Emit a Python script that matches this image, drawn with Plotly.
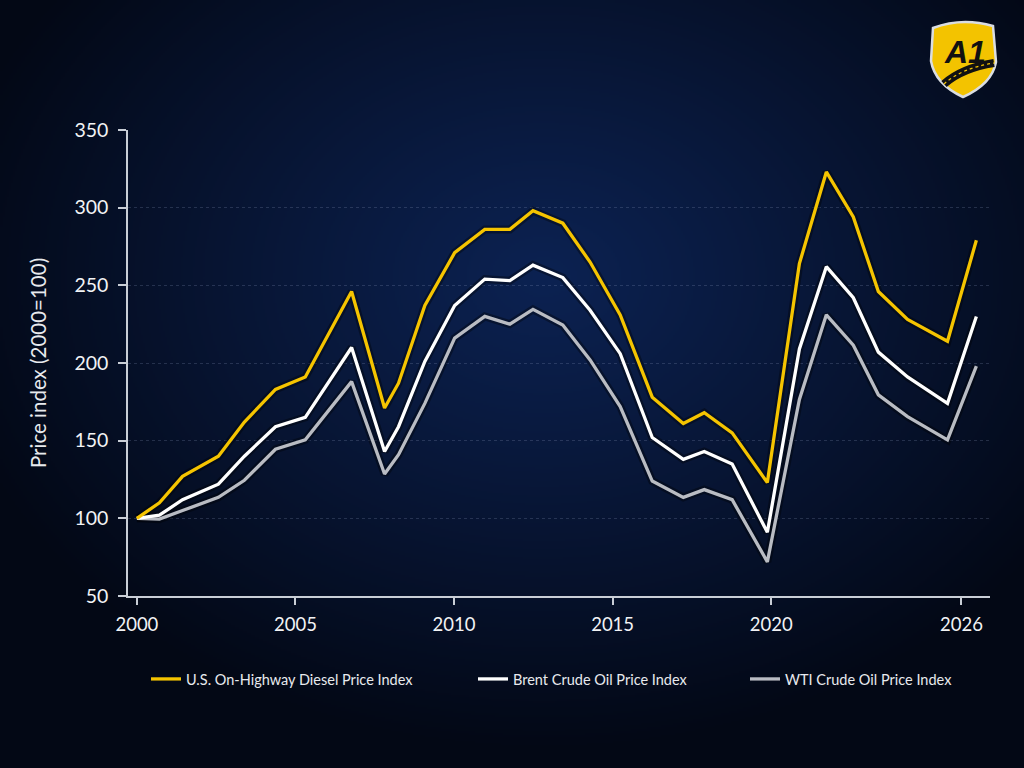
import base64
import struct
import zlib

import numpy as np
import plotly.graph_objects as go

# ---------------- data ----------------
years = [2000.0, 2000.71, 2001.44, 2002.57, 2003.39, 2004.37, 2005.31, 2006.77,
         2007.81, 2008.25, 2009.08, 2010.02, 2010.97, 2011.76, 2012.49, 2013.43,
         2014.29, 2015.24, 2016.25, 2017.23, 2017.89, 2018.77, 2019.88, 2020.89,
         2021.74, 2022.59, 2023.38, 2024.30, 2025.56, 2026.47]

diesel = [100, 110, 127, 140, 162, 183, 191, 246, 171, 187, 237, 271, 286, 286,
          298, 290, 265, 231, 178, 161, 168, 155, 123, 264, 323, 294, 246, 228,
          214, 279]

brent = [100, 102, 112, 122, 140, 159, 165, 210, 143, 159, 201, 237, 254, 253,
         263, 255, 234, 206, 152, 138, 143, 135, 91, 209, 262, 242, 207, 191,
         174, 230]

wti = [100, 99.5, 105, 113.5, 124.5, 144.5, 150.5, 188, 128.5, 141, 174, 216,
       230, 225, 234.5, 224.5, 202, 172, 124, 113.5, 118.5, 112, 72, 176.5, 231,
       211.5, 179.5, 165.5, 150.5, 198]

series_names = ["U.S. On-Highway Diesel Price Index",
                "Brent Crude Oil Price Index",
                "WTI Crude Oil Price Index"]
series_colors = ["#F5C400", "#FFFFFF", "#B9BCC3"]

x_tickvals = [2000, 2005, 2010, 2015, 2020, 2026]
y_tickvals = [50, 100, 150, 200, 250, 300, 350]
y_title = "Price index (2000=100)"
logo_text = "A1"

# ---------------- layout geometry (pixels) ----------------
W, H = 1024, 768
M_L, M_R, M_T, M_B = 128, 34, 130, 172
PW, PH = W - M_L - M_R, H - M_T - M_B


def px_x(px):
    return (px - M_L) / PW


def px_y(py):
    return (H - M_B - py) / PH


# ---------------- gradient background as inline PNG ----------------
def gradient_png(w=512, h=384):
    yy, xx = np.mgrid[0:h, 0:w].astype(float)
    cx, cy = 0.53 * w, 0.36 * h
    d = np.sqrt(((xx - cx) / (0.60 * w)) ** 2 + ((yy - cy) / (0.62 * h)) ** 2)
    t = np.clip(d, 0, 1) ** 1.05
    inner = np.array([12, 34, 82], float)
    outer = np.array([3, 8, 21], float)
    img = inner[None, None, :] * (1 - t[..., None]) + outer[None, None, :] * t[..., None]
    img = np.clip(img, 0, 255).astype(np.uint8)
    raw = b"".join(b"\x00" + img[r].tobytes() for r in range(h))

    def chunk(tag, data):
        return (struct.pack(">I", len(data)) + tag + data +
                struct.pack(">I", zlib.crc32(tag + data) & 0xFFFFFFFF))

    png = (b"\x89PNG\r\n\x1a\n" +
           chunk(b"IHDR", struct.pack(">IIBBBBB", w, h, 8, 2, 0, 0, 0)) +
           chunk(b"IDAT", zlib.compress(raw, 9)) + chunk(b"IEND", b""))
    return "data:image/png;base64," + base64.b64encode(png).decode()


fig = go.Figure()

all_vals = [diesel, brent, wti]
legend_ids = ["legend", "legend2", "legend3"]
order = [2, 1, 0]  # draw WTI first, diesel on top

# soft shadows under the lines
for i in order:
    fig.add_trace(go.Scatter(x=years, y=all_vals[i], mode="lines",
                             line=dict(color="rgba(0,0,0,0.35)", width=8),
                             hoverinfo="skip", showlegend=False))

for i in order:
    fig.add_trace(go.Scatter(x=years, y=all_vals[i], mode="lines",
                             name=series_names[i],
                             line=dict(color=series_colors[i], width=3.3),
                             legend=legend_ids[i]))

font_family = "Lato, 'Open Sans', sans-serif"
axis_color = "#C9CED6"

legend_common = dict(orientation="h", yanchor="middle", xanchor="left",
                     bgcolor="rgba(0,0,0,0)",
                     font=dict(family=font_family, size=14.5, color="#E8EAEE"))

# logo (decorative shapes)
shield = ("M {x0},{y0} Q {x1},{y1} {x2},{y2} L {x3},{y3} "
          "Q {x4},{y4} {x5},{y5} Q {x6},{y6} {x7},{y7} Z").format(
    x0=px_x(933), y0=px_y(28), x1=px_x(962), y1=px_y(17), x2=px_x(993), y2=px_y(26),
    x3=px_x(996), y3=px_y(62), x4=px_x(992), y4=px_y(84), x5=px_x(963), y5=px_y(97),
    x6=px_x(935), y6=px_y(84), x7=px_x(931), y7=px_y(61))
road = "M {a},{b} Q {c},{d} {e},{f}".format(
    a=px_x(944), b=px_y(84), c=px_x(962), d=px_y(68), e=px_x(994), f=px_y(63))

fig.update_layout(
    width=W, height=H,
    margin=dict(l=M_L, r=M_R, t=M_T, b=M_B),
    paper_bgcolor="#07122B",
    plot_bgcolor="rgba(0,0,0,0)",
    font=dict(family=font_family, color="#E8EAEE"),
    images=[dict(source=gradient_png(), xref="paper", yref="paper",
                 x=-M_L / PW, y=1 + M_T / PH, sizex=W / PW, sizey=H / PH,
                 xanchor="left", yanchor="top", sizing="stretch",
                 layer="below")],
    xaxis=dict(range=[1999.72, 2026.9], tickvals=x_tickvals,
               ticktext=[str(v) for v in x_tickvals],
               showgrid=False, zeroline=False,
               showline=True, linecolor=axis_color, linewidth=1.5,
               ticks="outside", ticklen=7, tickwidth=1.5, tickcolor=axis_color,
               tickfont=dict(size=18.5, color="#F2F3F5"), ticklabelstandoff=4),
    yaxis=dict(range=[50, 350], tickvals=y_tickvals,
               showgrid=True, gridcolor="rgba(150,165,200,0.22)",
               griddash="dot", gridwidth=1, zeroline=False,
               showline=True, linecolor=axis_color, linewidth=1.5,
               ticks="outside", ticklen=8, tickwidth=1.5, tickcolor=axis_color,
               tickfont=dict(size=19.5, color="#F2F3F5"), ticklabelstandoff=6,
               title=dict(text=y_title, standoff=22,
                          font=dict(size=20.5, color="#E8EAEE"))),
    legend=dict(x=px_x(146), y=px_y(679), **legend_common),
    legend2=dict(x=px_x(473), y=px_y(679), **legend_common),
    legend3=dict(x=px_x(745), y=px_y(679), **legend_common),
    shapes=[
        dict(type="path", path=shield, xref="paper", yref="paper",
             fillcolor="#F3C300", line=dict(color="#DADDE2", width=2.5),
             layer="above"),
        dict(type="path", path=road, xref="paper", yref="paper",
             line=dict(color="#111111", width=8), layer="above"),
        dict(type="path", path=road, xref="paper", yref="paper",
             line=dict(color="#F3C300", width=1.2, dash="dot"), layer="above"),
    ],
    annotations=[dict(text="<b><i>" + logo_text + "</i></b>",
                      xref="paper", yref="paper",
                      x=px_x(965), y=px_y(52), xanchor="center", yanchor="middle",
                      showarrow=False,
                      font=dict(family="'Liberation Sans', Arial, sans-serif",
                                size=32, color="#111111"))],
)

fig.write_html("out.html")
